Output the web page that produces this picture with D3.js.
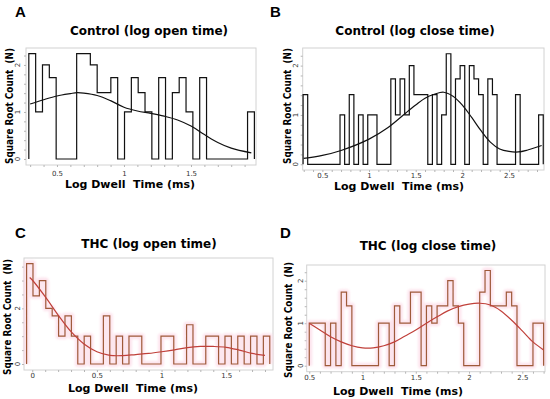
<!DOCTYPE html>
<html>
<head>
<meta charset="utf-8">
<script src="https://cdn.jsdelivr.net/npm/d3@7"></script>
<style>
  body { margin: 0; background: #fff; }
  svg text { font-family: "DejaVu Sans", Verdana, sans-serif; white-space: pre; }
</style>
</head>
<body>
<svg id="chart" width="550" height="399"></svg>
<script>
// ---- data (square root of bin counts) ----
const aBins = {start: 0.29, width: 0.051};
const aHeights = [2.24, 1, 2, 1.73, 0, 0, 0, 2.24, 2.24, 2, 1.41, 1.41, 1.73, 0,
  1, 1.73, 1.41, 1, 0, 1.73, 0, 1.41, 1.73, 1, 0, 1.73, 0, 0, 0, 0, 0, 0, 1];
const aCurveX = [0.3, 0.4, 0.5, 0.6, 0.65, 0.7, 0.8, 0.9, 1.0, 1.1, 1.2, 1.3, 1.4, 1.5, 1.6, 1.7, 1.8, 1.95];
const aCurveY = [1.17, 1.26, 1.34, 1.39, 1.41, 1.40, 1.35, 1.24, 1.1, 1.02, 0.97, 0.91, 0.83, 0.70, 0.52, 0.35, 0.23, 0.13];

const bBins = {start: 0.293, width: 0.0495};
const bHeights = [1.41, 0, 0, 0, 0, 0, 0, 0, 1, 0, 1.41, 0, 1, 0, 1, 1, 0, 0, 0,
  1.73, 1, 1.73, 1, 2, 1.41, 1.41, 1.41, 0, 1.41, 0, 1, 2.24, 0, 1.73, 2, 0, 2,
  1.73, 1.41, 0, 1.73, 1.41, 0, 0, 0, 0, 1.41, 0, 0, 0, 0, 1];
const bCurveX = [0.3, 0.5, 0.7, 1.0, 1.2, 1.4, 1.5, 1.6, 1.7, 1.8, 1.9, 2.0, 2.1, 2.2, 2.3, 2.4, 2.5, 2.6, 2.7, 2.85];
const bCurveY = [0.12, 0.18, 0.28, 0.51, 0.74, 1.05, 1.2, 1.34, 1.42, 1.46, 1.38, 1.2, 0.95, 0.68, 0.45, 0.31, 0.26, 0.25, 0.29, 0.38];

const cBins = {start: -0.044, width: 0.0495};
const cHeights = [3.61, 2.45, 3, 2, 1.73, 1, 1.73, 1, 0, 1, 0, 0, 1.73, 0, 1, 0, 1, 1,
  0, 0, 0, 1, 1, 0, 0, 1.41, 0, 0, 1, 1, 0, 1, 0, 1, 0, 1, 0, 1];
const cCurveX = [-0.02, 0.0, 0.1, 0.2, 0.3, 0.4, 0.5, 0.6, 0.7, 0.8, 0.9, 1.0, 1.1, 1.2, 1.3, 1.4, 1.5, 1.6, 1.7, 1.8];
const cCurveY = [3.11, 3.02, 2.42, 1.76, 1.16, 0.72, 0.44, 0.31, 0.30, 0.34, 0.38, 0.44, 0.51, 0.59, 0.63, 0.63, 0.6, 0.5, 0.38, 0.31];

const dBins = {start: 0.5, width: 0.05};
const dHeights = [1, 1, 1, 0, 1, 0, 1.73, 1.41, 0, 0, 0, 0, 0, 1, 1, 0, 1.41, 1, 1,
  1.73, 1.73, 0, 1.41, 1, 1.41, 1.41, 2, 1.41, 1, 0, 0, 0, 1.73, 2.24, 1.41, 1.41,
  1.41, 1.73, 1.41, 0, 0, 0, 1, 1];
const dCurveX = [0.5, 0.6, 0.7, 0.8, 0.9, 1.0, 1.1, 1.2, 1.3, 1.4, 1.5, 1.6, 1.7, 1.8, 1.9, 2.0, 2.1, 2.2, 2.3, 2.4, 2.5, 2.6, 2.7];
const dCurveY = [1.0, 0.84, 0.68, 0.56, 0.47, 0.42, 0.42, 0.47, 0.56, 0.70, 0.84, 1.0, 1.15, 1.29, 1.39, 1.45, 1.47, 1.43, 1.29, 1.07, 0.82, 0.56, 0.37];

const aXTicks = [0.5, 1, 1.5], bXTicks = [0.5, 1, 1.5, 2, 2.5],
      cXTicks = [0, 0.5, 1, 1.5], dXTicks = [0.5, 1, 1.5, 2, 2.5];
const aYTicks = [0, 1, 2], bYTicks = [0, 1, 2], cYTicks = [0, 2], dYTicks = [0, 1, 2];

const titles = ["Control (log open time)", "Control (log close time)", "THC (log open time)", "THC (log close time)"];
const letters = ["A", "B", "C", "D"];
const xTitle = "Log Dwell  Time (ms)";
const yTitle = "Square Root Count  (N)";

// ---- layout ----
const panels = [
  {letter: letters[0], title: titles[0], bins: aBins, h: aHeights, cx: aCurveX, cy: aCurveY,
   xt: aXTicks, yt: aYTicks, xDom: [0.269, 1.985], yDom: [-0.128, 2.36],
   left: 26, right: 256, top: 48, bottom: 165, minorY: 0.2, lx: 15, ly: 17,
   titleX: 149, titleY: 35, xlX: 130, xlY: 188, ylX: 13, ylY: 106, tickPad: 4, ylOff: -6,
   hist: "#111", curve: "#111", glow: false},
  {letter: letters[1], title: titles[1], bins: bBins, h: bHeights, cx: bCurveX, cy: bCurveY,
   xt: bXTicks, yt: bYTicks, xDom: [0.289, 2.875], yDom: [-0.116, 2.357],
   left: 302.7, right: 544, top: 48, bottom: 170, minorY: 0.2, lx: 270, ly: 17,
   titleX: 415, titleY: 35, xlX: 399, xlY: 190, ylX: 291, ylY: 106, tickPad: 1, ylOff: -5,
   hist: "#111", curve: "#111", glow: false},
  {letter: letters[2], title: titles[2], bins: cBins, h: cHeights, cx: cCurveX, cy: cCurveY,
   xt: cXTicks, yt: cYTicks, xDom: [-0.064, 1.862], yDom: [-0.216, 3.81],
   left: 24, right: 273, top: 258, bottom: 370, minorY: 0.5, lx: 15, ly: 238,
   titleX: 149, titleY: 248, xlX: 133, xlY: 392, ylX: 11, ylY: 317, tickPad: 1, ylOff: -4,
   hist: "#9f5a3a", curve: "#c0403a", glow: true},
  {letter: letters[3], title: titles[3], bins: dBins, h: dHeights, cx: dCurveX, cy: dCurveY,
   xt: dXTicks, yt: dYTicks, xDom: [0.476, 2.713], yDom: [-0.141, 2.37],
   left: 306.7, right: 545, top: 265, bottom: 371.7, minorY: 0.2, lx: 280, ly: 238,
   titleX: 428, titleY: 250, xlX: 398, xlY: 395, ylX: 292, ylY: 320, tickPad: 1, ylOff: -4,
   hist: "#9f5a3a", curve: "#c0403a", glow: true}
];

const svg = d3.select("#chart");

// soft pink halo behind the THC histograms
svg.append("defs").append("filter").attr("id", "soft")
  .attr("x", "-5%").attr("y", "-5%").attr("width", "110%").attr("height", "110%")
  .append("feGaussianBlur").attr("stdDeviation", 1.2);

panels.forEach(function(p) {
  const g = svg.append("g");
  const x = d3.scaleLinear().domain(p.xDom).range([p.left, p.right]);
  const y = d3.scaleLinear().domain(p.yDom).range([p.bottom, p.top]);

  // frame
  g.append("rect")
    .attr("x", p.left).attr("y", p.top)
    .attr("width", p.right - p.left).attr("height", p.bottom - p.top)
    .attr("fill", "none").attr("stroke", "#d2d2d2").attr("stroke-width", 1);

  // x axis: minor ticks every 0.1, labels on the major ones
  const xMinor = d3.range(Math.ceil(p.xDom[0] * 10), Math.floor(p.xDom[1] * 10) + 1).map(v => v / 10);
  const xAx = g.append("g")
    .attr("transform", `translate(0,${p.bottom})`)
    .call(d3.axisBottom(x).tickValues(xMinor).tickSize(2).tickPadding(p.tickPad)
      .tickFormat(v => p.xt.some(t => Math.abs(t - v) < 1e-6) ? d3.format("")(+v.toFixed(1)) : ""));
  xAx.select(".domain").remove();
  xAx.selectAll("line").attr("stroke", "#b5b5b5");
  xAx.selectAll("text").attr("font-size", 7).attr("fill", "#333")
    .style("font-family", "'DejaVu Sans', sans-serif");

  // y axis: minor ticks, rotated labels
  const yMinor = d3.range(0, Math.floor(p.yDom[1] / p.minorY) + 1).map(v => +(v * p.minorY).toFixed(2));
  const yAx = g.append("g")
    .attr("transform", `translate(${p.left},0)`)
    .call(d3.axisLeft(y).tickValues(yMinor).tickSize(2).tickFormat(""));
  yAx.select(".domain").remove();
  yAx.selectAll("line").attr("stroke", "#b5b5b5");

  g.selectAll(".ylab").data(p.yt).join("text")
    .attr("class", "ylab")
    .attr("transform", d => `translate(${p.left + p.ylOff},${y(d)}) rotate(-90)`)
    .attr("text-anchor", "middle")
    .attr("font-size", 7).attr("fill", "#333")
    .text(d => d);

  // histogram outline
  const b = p.bins, n = p.h.length;
  const pts = [[b.start, 0]];
  p.h.forEach((v, i) => pts.push([b.start + i * b.width, v]));
  pts.push([b.start + n * b.width, p.h[n - 1]]);
  pts.push([b.start + n * b.width, 0]);
  const step = d3.line().x(d => x(d[0])).y(d => y(d[1])).curve(d3.curveStepAfter);

  if (p.glow) {
    g.append("path").attr("d", step(pts))
      .attr("fill", "none").attr("stroke", "#fcd9e6").attr("stroke-width", 6)
      .attr("stroke-linejoin", "round").attr("opacity", 0.7)
      .attr("filter", "url(#soft)");
  }
  g.append("path").attr("d", step(pts))
    .attr("fill", "none").attr("stroke", p.hist).attr("stroke-width", 1.2);

  // smooth density curve
  const cpts = p.cx.map((v, i) => [v, p.cy[i]]);
  g.append("path")
    .attr("d", d3.line().x(d => x(d[0])).y(d => y(d[1])).curve(d3.curveCatmullRom)(cpts))
    .attr("fill", "none").attr("stroke", p.curve).attr("stroke-width", 1.2);

  // texts
  g.append("text").attr("x", p.lx).attr("y", p.ly)
    .attr("font-size", 15).attr("font-weight", "bold")
    .style("font-family", "'Liberation Sans', Arial, sans-serif")
    .text(p.letter);
  g.append("text").attr("x", p.titleX).attr("y", p.titleY)
    .attr("text-anchor", "middle").attr("font-size", 12).attr("font-weight", "bold")
    .text(p.title);
  g.append("text").attr("x", p.xlX).attr("y", p.xlY)
    .attr("text-anchor", "middle").attr("font-size", 10.5).attr("font-weight", "bold")
    .attr("textLength", 130).attr("lengthAdjust", "spacingAndGlyphs")
    .text(xTitle);
  g.append("text")
    .attr("transform", `translate(${p.ylX},${p.ylY}) rotate(-90)`)
    .attr("text-anchor", "middle").attr("font-size", 10).attr("font-weight", "bold")
    .attr("textLength", 116).attr("lengthAdjust", "spacingAndGlyphs")
    .text(yTitle);
});
</script>
</body>
</html>
